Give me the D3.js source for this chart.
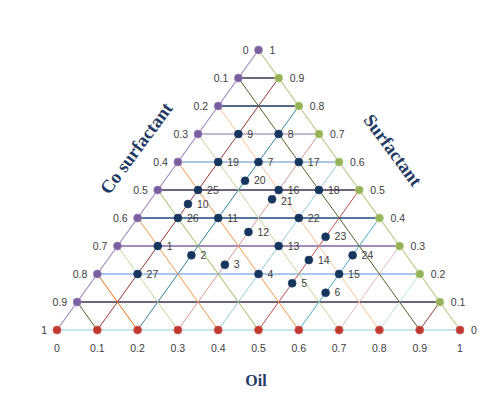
<!DOCTYPE html>
<html>
<head>
<meta charset="utf-8">
<script src="https://cdn.jsdelivr.net/npm/d3@7"></script>
<style>
  html, body { margin: 0; padding: 0; background: #ffffff; }
  svg { display: block; }
</style>
</head>
<body>
<div id="chart"></div>
<script>
// ---- Data ----
const pointLabels = ["1","2","3","4","5","6","7","8","9","10","11","12","13","14","15","16","17","18","19","20","21","22","23","24","25","26","27"];
const pointOil = [0.1,0.2,0.3,0.4,0.5,0.6,0.2,0.2,0.1,0.1,0.2,0.3,0.4,0.5,0.6,0.3,0.3,0.4,0.1,0.2,0.3,0.4,0.5,0.6,0.1,0.1,0.1];
const pointSurfactant = [0.3,0.267,0.233,0.2,0.167,0.133,0.6,0.7,0.7,0.45,0.4,0.35,0.3,0.25,0.2,0.5,0.6,0.5,0.6,0.533,0.467,0.4,0.333,0.267,0.5,0.4,0.2];

const gridLevels = [0.1,0.2,0.3,0.4,0.5,0.6,0.7,0.8,0.9];
const oilTicks = ["0","0.1","0.2","0.3","0.4","0.5","0.6","0.7","0.8","0.9","1"];
const coSurfTicks = ["0","0.1","0.2","0.3","0.4","0.5","0.6","0.7","0.8","0.9","1"];
const surfTicks = ["1","0.9","0.8","0.7","0.6","0.5","0.4","0.3","0.2","0.1","0"];
const oilTitle = "Oil";
const surfTitle = "Surfactant";
const coSurfTitle = "Co surfactant";

// ---- Styles ----
const hColors = ["#3F3151","#8EB4E3","#8064A2","#1F497D","#403152","#95B3D7","#B3A2C7","#17375E","#3F3151"];
const oilLineColors = ["#953735","#31859C","#D99694","#93CDDD","#C0504D","#4BACC6","#E6B9B8","#B7DEE8","#953735"];
const coLineColors = ["#4F6228","#FAC090","#C3D69B","#F79646","#9BBB59","#F79646","#C3D69B","#E46C0A","#4F6228"];

const W = 504, H = 400;
const svg = d3.select("#chart").append("svg").attr("width", W).attr("height", H);

const x = d3.scaleLinear().domain([0, 1]).range([57, 460]);
const y = d3.scaleLinear().domain([0, 1]).range([330, 50]);
// ternary -> pixel: oil o, surfactant s
const px = (o, s) => x(o + s / 2);
const py = (o, s) => y(s);

const gGrid = svg.append("g");
// horizontal lines: constant surfactant
gridLevels.forEach((s, i) => {
  gGrid.append("line")
    .attr("x1", px(0, s)).attr("y1", py(0, s))
    .attr("x2", px(1 - s, s)).attr("y2", py(1 - s, s))
    .attr("stroke", hColors[i]).attr("stroke-width", 1.3);
});
// constant oil lines (bottom -> right edge)
gridLevels.forEach((o, i) => {
  gGrid.append("line")
    .attr("x1", px(o, 0)).attr("y1", py(o, 0))
    .attr("x2", px(o, 1 - o)).attr("y2", py(o, 1 - o))
    .attr("stroke", oilLineColors[i]).attr("stroke-width", 1);
});
// constant co-surfactant lines (left edge -> bottom)
gridLevels.forEach((c, i) => {
  gGrid.append("line")
    .attr("x1", px(0, 1 - c)).attr("y1", py(0, 1 - c))
    .attr("x2", px(1 - c, 0)).attr("y2", py(1 - c, 0))
    .attr("stroke", coLineColors[i]).attr("stroke-width", 1);
});
// edges
gGrid.append("line").attr("x1", px(0,0)).attr("y1", py(0,0)).attr("x2", px(1,0)).attr("y2", py(1,0))
  .attr("stroke", "#93CDDD").attr("stroke-width", 1.2);
gGrid.append("line").attr("x1", px(0,0)).attr("y1", py(0,0)).attr("x2", px(0,1)).attr("y2", py(0,1))
  .attr("stroke", "#9F8CC0").attr("stroke-width", 1.2);
gGrid.append("line").attr("x1", px(0,1)).attr("y1", py(0,1)).attr("x2", px(1,0)).attr("y2", py(1,0))
  .attr("stroke", "#B5CB86").attr("stroke-width", 1.2);

const gMark = svg.append("g");
const R = 4;
// left edge markers (purple), rows 0..9
coSurfTicks.forEach((t, i) => {
  if (i === 10) return;
  const c = i / 10;
  gMark.append("circle").attr("cx", px(0, 1 - c)).attr("cy", py(0, 1 - c)).attr("r", R)
    .attr("fill", "#7A5E9E").attr("stroke", "#9A84BA").attr("stroke-width", 0.8);
});
// right edge markers (green)
surfTicks.forEach((t, i) => {
  if (i === 0 || i === 10) return;
  const s = 1 - i / 10;
  gMark.append("circle").attr("cx", px(1 - s, s)).attr("cy", py(1 - s, s)).attr("r", R)
    .attr("fill", "#95B356").attr("stroke", "#B3CA85").attr("stroke-width", 0.8);
});
// bottom markers (red)
oilTicks.forEach((t, i) => {
  const o = i / 10;
  gMark.append("circle").attr("cx", px(o, 0)).attr("cy", py(o, 0)).attr("r", R)
    .attr("fill", "#C0392F").attr("stroke", "#D0605A").attr("stroke-width", 0.8);
});

// data points
const pts = pointLabels.map((l, i) => ({ l, o: pointOil[i], s: pointSurfactant[i] }));
gMark.selectAll(".pt").data(pts).enter().append("circle")
  .attr("cx", d => px(d.o, d.s)).attr("cy", d => py(d.o, d.s)).attr("r", R)
  .attr("fill", "#17365D").attr("stroke", "#1F3F6A").attr("stroke-width", 0.6);

const font = "'Liberation Sans', Arial, sans-serif";
const txtColor = "#404040";
const gTxt = svg.append("g").attr("font-family", font).attr("font-size", 10.5).attr("fill", txtColor);

gTxt.selectAll(".pl").data(pts).enter().append("text")
  .attr("x", d => px(d.o, d.s) + 9).attr("y", d => py(d.o, d.s) + (d.l === "21" ? 2 : 0)).attr("dy", "0.35em")
  .text(d => d.l);

// left labels
coSurfTicks.forEach((t, i) => {
  const c = i / 10;
  gTxt.append("text").attr("x", px(0, 1 - c) - 10).attr("y", py(0, 1 - c)).attr("dy", "0.35em")
    .attr("text-anchor", "end").text(t);
});
// right labels
surfTicks.forEach((t, i) => {
  if (i === 10) return;
  const s = 1 - i / 10;
  gTxt.append("text").attr("x", px(1 - s, s) + 11).attr("y", py(1 - s, s)).attr("dy", "0.35em")
    .text(t);
});
// bottom labels
oilTicks.forEach((t, i) => {
  const o = i / 10;
  gTxt.append("text").attr("x", px(o, 0)).attr("y", py(o, 0) + 18).attr("dy", "0.35em")
    .attr("text-anchor", "middle").text(t);
});
// bottom-right vertex "0"
gTxt.append("text").attr("x", px(1, 0) + 11).attr("y", py(1, 0)).attr("dy", "0.35em").text("0");

// titles
const titleFont = "'Liberation Serif', 'Times New Roman', serif";
const titleColor = "#1F3B63";
svg.append("text").attr("x", 256).attr("y", 380).attr("dy", "0.35em")
  .attr("text-anchor", "middle").attr("font-family", titleFont).attr("font-weight", "bold")
  .attr("font-size", 16).attr("fill", titleColor).text(oilTitle);
svg.append("text").attr("transform", "translate(136,148) rotate(-53.5)").attr("dy", "0.35em")
  .attr("text-anchor", "middle").attr("font-family", titleFont).attr("font-weight", "bold")
  .attr("font-size", 18.5).attr("fill", titleColor).text(coSurfTitle);
svg.append("text").attr("transform", "translate(393,150) rotate(53.5)").attr("dy", "0.35em")
  .attr("text-anchor", "middle").attr("font-family", titleFont).attr("font-weight", "bold")
  .attr("font-size", 18.5).attr("fill", titleColor).text(surfTitle);
</script>
</body>
</html>
